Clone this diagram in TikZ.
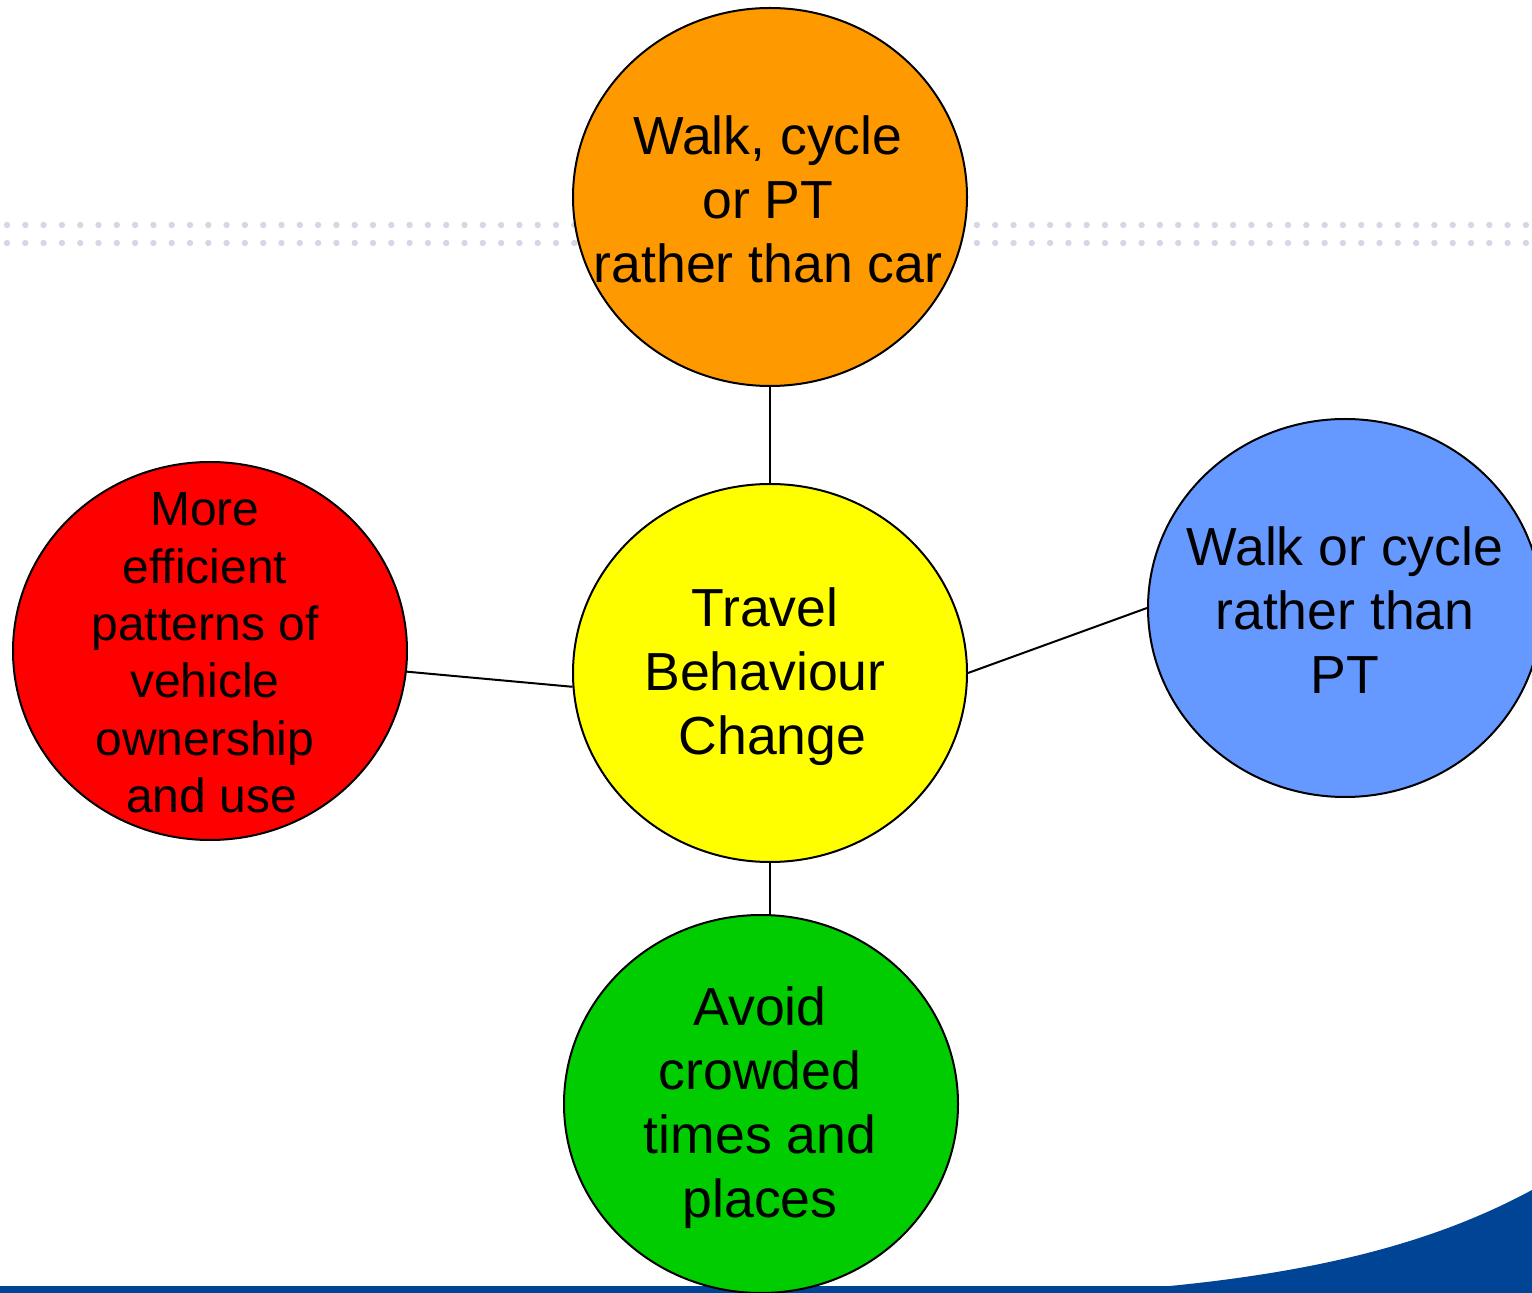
\documentclass[tikz,border=0pt]{standalone}
\usepackage{fontspec}
\setmainfont{Liberation Sans}
\usetikzlibrary{shapes.geometric}
\definecolor{cOrange}{HTML}{FF9900}
\definecolor{cYellow}{HTML}{FFFF00}
\definecolor{cRed}{HTML}{FF0000}
\definecolor{cBlue}{HTML}{6699FF}
\definecolor{cGreen}{HTML}{00CC00}
\definecolor{cNavy}{HTML}{004595}
\definecolor{cDot}{HTML}{D6D6E6}
\begin{document}
\begin{tikzpicture}[x=0.5pt,y=-0.5pt,
  bubble/.style={ellipse,draw=black,line width=1pt,minimum width=197pt,minimum height=189pt,inner sep=0pt},
  btext/.style={align=center,font=\fontsize{26.8}{32}\selectfont,inner sep=0pt},
  link/.style={draw=black,line width=1pt}]
\useasboundingbox (0,0) rectangle (1532,1293);
% dotted band
\foreach \i in {0,...,83}{
  \fill[cDot] (7+18.3*\i,225) circle (3.2);
  \fill[cDot] (7+18.3*\i,243) circle (3.2);
}
% bottom band and swoosh
\fill[cNavy] (0,1286) rectangle (1532,1293);
\fill[cNavy] (1080,1293) .. controls (1300,1280) and (1430,1245) .. (1532,1190) -- (1532,1293) -- cycle;
% bubbles
\node[bubble,fill=cOrange] (top) at (770,197) {};
\node[bubble,fill=cYellow] (mid) at (770,673) {};
\node[bubble,fill=cRed] (left) at (210,651) {};
\node[bubble,fill=cBlue] (right) at (1345,608) {};
\node[bubble,fill=cGreen] (bot) at (761,1104) {};
% connectors
\draw[link] (top.south) -- (mid.north);
\draw[link] (mid.south) -- (mid.south |- bot.north);
\draw[link] (left.-6.4) -- (mid.184.4);
\draw[link] (mid.east) -- (right.west);
% texts
\node[btext] (toptext) at (768,199) {Walk, cycle\\or PT\\rather than car};
\node[btext] (midtext) at (765,677) {Travel\\Behaviour\\\ Change};
\node[btext,font=\fontsize{24}{28.7}\selectfont] (lefttext) at (205,653) {More\\efficient\\patterns of\\vehicle\\ownership\\\ and use};
\node[btext] (righttext) at (1345,610) {Walk or cycle\\rather than\\PT};
\node[btext] (bottext) at (760,1108) {Avoid\\crowded\\times and\\places};
\end{tikzpicture}
\end{document}
